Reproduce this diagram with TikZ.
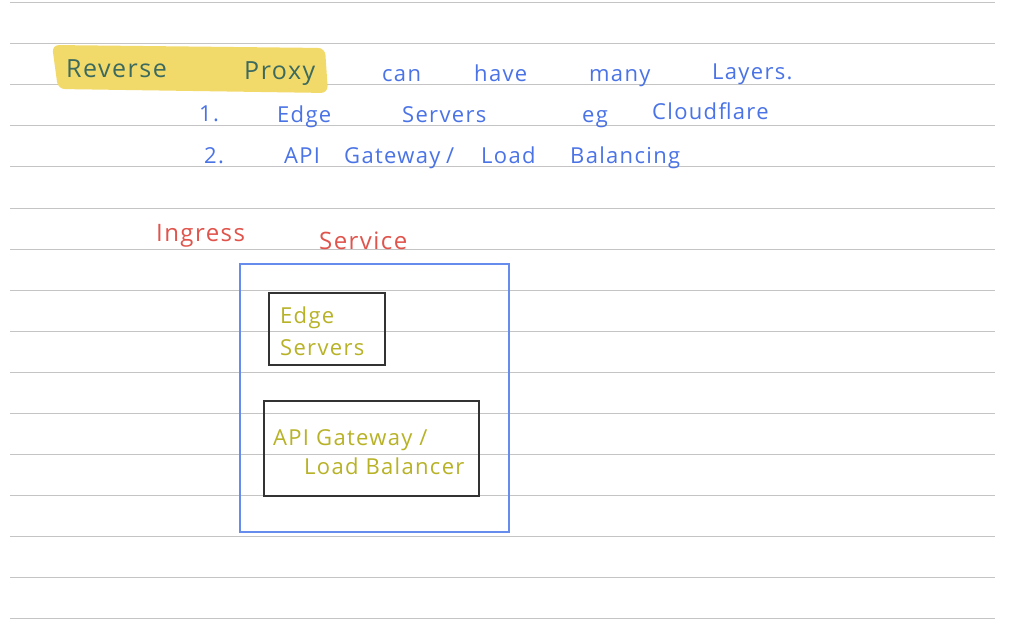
\documentclass[tikz,border=0pt]{standalone}
\usepackage{fontspec}
\setmainfont{Open Sans}
\newfontfamily\hand[LetterSpace=6]{Open Sans}
\definecolor{rule}{HTML}{C4C4C4}
\definecolor{hl}{HTML}{F2DA6A}
\definecolor{teal}{HTML}{3C6A5E}
\definecolor{pen}{HTML}{4A73E6}
\definecolor{redpen}{HTML}{E0544C}
\definecolor{olive}{HTML}{B7B226}
\definecolor{boxblue}{HTML}{668CEE}
\tikzset{
  hw/.style={anchor=base west, inner sep=0pt, font=\hand\fontsize{22}{26}\selectfont},
  tealw/.style={hw, text=teal, font=\hand\fontsize{25}{28}\selectfont},
  bluew/.style={hw, text=pen},
  redw/.style={hw, text=redpen, font=\hand\fontsize{24}{28}\selectfont},
  olivew/.style={hw, text=olive, font=\hand\fontsize{22}{26}\selectfont},
  frame/.style={draw=black!80, line width=1.8pt, anchor=north west, inner sep=0pt},
}
\begin{document}
\begin{tikzpicture}[x=1pt,y=-1pt]
\useasboundingbox (0,0) rectangle (1018,623);
\fill[white] (0,0) rectangle (1018,623);
% ruled lines
\foreach \i in {0,...,15} {
  \draw[rule, line width=1pt] (10,3+41*\i) -- (995,3+41*\i);
}
% highlight
\fill[hl, rounded corners=7pt] (52,45) -- (325,48) -- (328,93) -- (58,89) -- cycle;
% line 1
\node[tealw] (reverse) at (66,78) {Reverse};
\node[tealw] (proxy) at (244,80) {Proxy};
\node[bluew] (can) at (382,82) {can};
\node[bluew] (have) at (474,82) {have};
\node[bluew] (many) at (589,82) {many};
\node[bluew] (layers) at (712,80) {Layers.};
% line 2
\node[bluew] (n1) at (199,122) {1.};
\node[bluew] (edge) at (277,123) {Edge};
\node[bluew] (servers) at (402,123) {Servers};
\node[bluew] (eg) at (582,123) {eg};
\node[bluew] (cloud) at (652,120) {Cloudflare};
% line 3
\node[bluew] (n2) at (204,164) {2.};
\node[bluew] (api) at (284,164) {API};
\node[bluew] (gateway) at (344,164) {Gateway};
\node[bluew] (slash) at (446,164) {/};
\node[bluew] (load) at (481,164) {Load};
\node[bluew] (balancing) at (570,164) {Balancing};
% heading
\node[redw] (ingress) at (156,241) {Ingress};
\node[redw] (service) at (319,249) {Service};
% boxes
\node[draw=boxblue, line width=1.8pt, anchor=north west, inner sep=0pt,
      minimum width=269, minimum height=268] (ingbox) at (239,263) {};
\node[frame, minimum width=116, minimum height=72] (edgebox) at (268,292) {};
\node[frame, minimum width=215, minimum height=95] (apibox) at (263,400) {};
\node[olivew] (edgetxt1) at (280,323) {Edge};
\node[olivew] (edgetxt2) at (280,355) {Servers};
\node[olivew] (apitxt1) at (273,445) {API Gateway /};
\node[olivew] (apitxt2) at (304,474) {Load Balancer};
\end{tikzpicture}
\end{document}
